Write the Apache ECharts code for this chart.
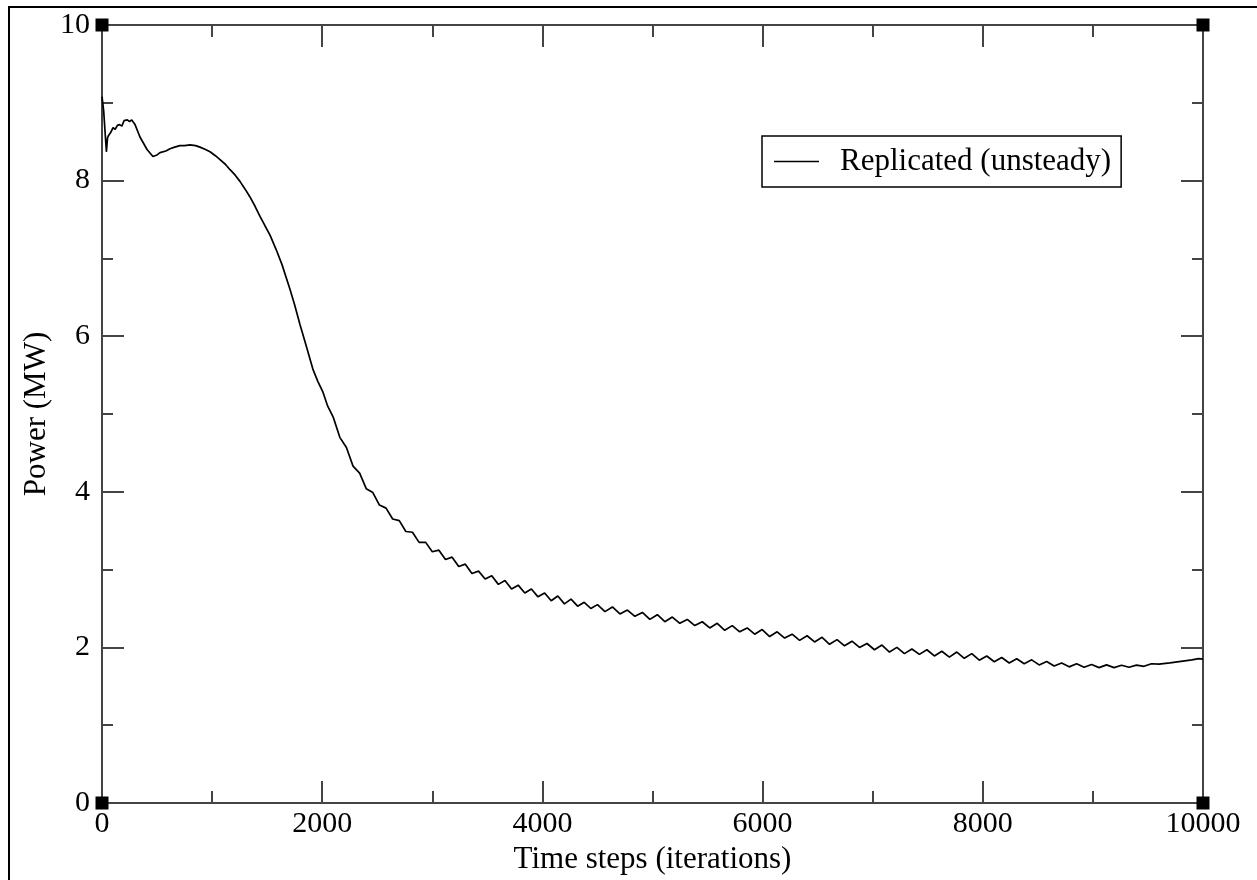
<!DOCTYPE html>
<html>
<head>
<meta charset="utf-8">
<script src="https://cdn.jsdelivr.net/npm/echarts@6/dist/echarts.min.js"></script>
<style>
html,body{margin:0;padding:0;background:#fff;}
#chart{width:1257px;height:880px;}
</style>
</head>
<body>
<div id="chart"></div>
<script>
// ---- data ----
const seriesName = 'Replicated (unsteady)';
const xTitle = 'Time steps (iterations)';
const yTitle = 'Power (MW)';
const xTicks = [0, 2000, 4000, 6000, 8000, 10000];
const yTicks = [0, 2, 4, 6, 8, 10];

const steps = [
  0, 15, 40, 50, 60, 80, 100, 120, 140, 160, 180, 200, 230, 250, 270, 300, 345, 409, 463, 500,
  527, 580, 618, 660, 708, 750, 799, 850, 890, 940, 981, 1030, 1072, 1120, 1163, 1210, 1253, 1300, 1344, 1390,
  1435, 1480, 1526, 1580, 1635, 1708, 1750, 1798, 1850, 1917, 1960, 2007, 2050,
  2100, 2160, 2220, 2280, 2340, 2400, 2460, 2520, 2580, 2640, 2700, 2760, 2820, 2880, 2940, 3000,
  3060, 3120, 3180, 3240, 3300, 3360, 3420, 3480, 3540, 3600, 3660, 3720, 3780, 3840, 3900, 3960,
  4020, 4080, 4140, 4200, 4260, 4320, 4380, 4440, 4500,
  4568, 4636, 4704, 4772, 4840, 4908, 4976, 5044, 5112, 5180, 5248, 5316, 5384, 5452, 5520, 5588,
  5656, 5724, 5792, 5860, 5928, 5996, 6064, 6132, 6200, 6268, 6336, 6404, 6472, 6540, 6608, 6676,
  6744, 6812, 6880, 6948, 7016, 7084, 7152, 7220, 7288, 7356, 7424, 7492, 7560, 7628, 7696, 7764,
  7832, 7900, 7968, 8036, 8104, 8172, 8240, 8308, 8376, 8444, 8512, 8580, 8648, 8716, 8784, 8852,
  8920, 8988, 9056, 9124, 9192, 9260, 9328, 9396, 9464, 9532, 9600, 9700, 9800, 9900, 9960, 10000
];
const power = [
  9.08, 8.90, 8.37, 8.55, 8.58, 8.62, 8.68, 8.66, 8.71, 8.72, 8.70, 8.77, 8.78, 8.76, 8.78, 8.72, 8.56, 8.40, 8.31, 8.33,
  8.36, 8.38, 8.41, 8.43, 8.45, 8.45, 8.46, 8.45, 8.43, 8.40, 8.37, 8.32, 8.27, 8.21, 8.14, 8.07, 7.99, 7.89, 7.79, 7.67,
  7.54, 7.42, 7.30, 7.12, 6.92, 6.60, 6.40, 6.15, 5.90, 5.57, 5.42, 5.28, 5.10,
  4.96, 4.70, 4.57, 4.33, 4.24, 4.04, 3.99, 3.83, 3.79, 3.65, 3.63, 3.49, 3.48, 3.35, 3.35, 3.23,
  3.25, 3.13, 3.16, 3.04, 3.07, 2.95, 2.98, 2.88, 2.92, 2.81, 2.86, 2.75, 2.80, 2.70, 2.75, 2.65,
  2.70, 2.60, 2.66, 2.56, 2.62, 2.53, 2.58, 2.50, 2.55,
  2.46, 2.52, 2.43, 2.48, 2.40, 2.45, 2.36, 2.42, 2.33, 2.39, 2.31, 2.36, 2.28, 2.33, 2.25, 2.31,
  2.22, 2.28, 2.20, 2.25, 2.17, 2.23, 2.14, 2.20, 2.12, 2.17, 2.09, 2.15, 2.07, 2.13, 2.04, 2.10,
  2.02, 2.08, 2.00, 2.05, 1.97, 2.03, 1.94, 2.00, 1.92, 1.98, 1.91, 1.97, 1.89, 1.95, 1.875, 1.94,
  1.86, 1.92, 1.835, 1.89, 1.815, 1.87, 1.80, 1.855, 1.79, 1.84, 1.775, 1.82, 1.76, 1.80, 1.75, 1.79,
  1.745, 1.78, 1.74, 1.775, 1.74, 1.77, 1.745, 1.772, 1.757, 1.79, 1.785, 1.80, 1.82, 1.84, 1.855, 1.85
];
const cornerX = [0, 0, 10000, 10000];
const cornerY = [0, 10, 0, 10];

// ---- chart ----
const FONT = 'Liberation Serif';
const AXIS_COLOR = '#444';
const lineData = steps.map((s, i) => [s, power[i]]);
const cornerData = cornerX.map((x, i) => [x, cornerY[i]]);
const plain = v => String(v);

function xAxisCfg(pos, showLabel) {
  return {
    type: 'value', position: pos, min: xTicks[0], max: xTicks[xTicks.length - 1], interval: 2000,
    name: showLabel ? xTitle : '', nameLocation: 'middle', nameGap: 41, nameMoveOverlap: false,
    nameTextStyle: { fontFamily: FONT, fontSize: 31, color: '#000' },
    axisLine: { show: true, onZero: false, lineStyle: { color: AXIS_COLOR, width: 2 } },
    axisTick: { show: true, inside: true, length: 22, lineStyle: { color: AXIS_COLOR, width: 2 } },
    minorTick: { show: true, splitNumber: 2, length: 12, lineStyle: { color: AXIS_COLOR, width: 2 } },
    axisLabel: { show: showLabel, margin: 6, fontFamily: FONT, fontSize: 30, color: '#000', formatter: plain },
    splitLine: { show: false }
  };
}
function yAxisCfg(pos, showLabel) {
  return {
    type: 'value', position: pos, min: yTicks[0], max: yTicks[yTicks.length - 1], interval: 2,
    name: showLabel ? yTitle : '', nameLocation: 'middle', nameGap: 50, nameMoveOverlap: false,
    nameTextStyle: { fontFamily: FONT, fontSize: 31, color: '#000' },
    axisLine: { show: true, onZero: false, lineStyle: { color: AXIS_COLOR, width: 2 } },
    axisTick: { show: true, inside: true, length: 22, lineStyle: { color: AXIS_COLOR, width: 2 } },
    minorTick: { show: true, splitNumber: 2, length: 11, lineStyle: { color: AXIS_COLOR, width: 2 } },
    axisLabel: { show: showLabel, margin: 12, fontFamily: FONT, fontSize: 30, color: '#000', formatter: plain },
    splitLine: { show: false }
  };
}

const chart = echarts.init(document.getElementById('chart'), null, { renderer: 'canvas' });
chart.setOption({
  animation: false,
  backgroundColor: '#fff',
  grid: { left: 102, right: 54, top: 25, bottom: 76, containLabel: false },
  xAxis: [xAxisCfg('bottom', true), xAxisCfg('top', false)],
  yAxis: [yAxisCfg('left', true), yAxisCfg('right', false)],
  legend: {
    data: [{ name: seriesName, icon: 'rect' }],
    left: 762, top: 136,
    padding: [10, 10, 10, 12],
    itemWidth: 45, itemHeight: 1.6, itemTextGap: 21,
    itemStyle: { color: '#000' },
    borderColor: '#000', borderWidth: 1.5,
    textStyle: { fontFamily: FONT, fontSize: 31, color: '#000', padding: [0, 0, 0, 16] }
  },
  graphic: [{
    type: 'rect', silent: true,
    shape: { x: 9, y: 7, width: 1400, height: 1000 },
    style: { fill: 'none', stroke: '#000', lineWidth: 2 }
  }],
  series: [
    {
      name: seriesName, type: 'line', xAxisIndex: 0, yAxisIndex: 0,
      data: lineData, symbol: 'none', showSymbol: false, smooth: false,
      lineStyle: { color: '#000', width: 1.7 }, itemStyle: { color: '#000' },
      z: 3
    },
    {
      name: 'corners', type: 'scatter', xAxisIndex: 0, yAxisIndex: 0,
      data: cornerData, symbol: 'rect', symbolSize: 13, clip: false, silent: true,
      itemStyle: { color: '#000', opacity: 1 }, z: 10
    }
  ]
});
</script>
</body>
</html>
